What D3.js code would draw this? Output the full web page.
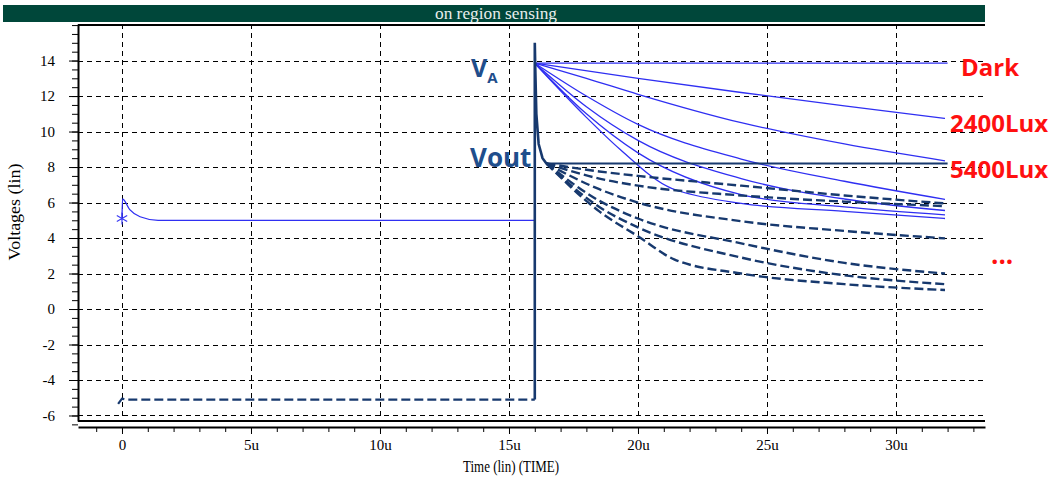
<!DOCTYPE html>
<html>
<head>
<meta charset="utf-8">
<title>on region sensing</title>
<script src="https://d3js.org/d3.v7.min.js"></script>
<style>
  body { margin: 0; background: #fff; }
  .axis text { font-family: "Liberation Serif", "DejaVu Serif", serif; font-size: 15px; fill: #000; }
  .axis path, .axis line { stroke: #000; }
</style>
</head>
<body>
<script>
// ---- data (time in us, volts) ----
var xTicks = [0, 5, 10, 15, 20, 25, 30];
var xTickLabels = ["0", "5u", "10u", "15u", "20u", "25u", "30u"];
var yTicks = [-6, -4, -2, 0, 2, 4, 6, 8, 10, 12, 14];

// VA node before the light pulse
var vaStart = [[0, 5.05], [0.02, 6.2], [0.3, 5.6], [0.7, 5.2], [1.4, 5.0], [16, 5.0], [16.0, 13.85]];
// VA after reset, one curve per light level
var vaDark = [[16, 13.85], [32, 13.85]];
var va2400 = [[16, 13.85], [20, 13.0], [24, 12.2], [28, 11.45], [31.9, 10.74]];
var va5400 = [[16, 13.85], [18, 13.0], [20, 12.1], [24, 10.5], [28, 9.3], [31.9, 8.35]];
var vaL3 = [[16, 13.85], [18, 12.0], [20, 10.4], [24, 8.45], [28, 7.2], [31.9, 6.18]];
var vaL4 = [[16, 13.85], [18, 11.4], [20, 9.5], [24, 7.35], [28, 6.2], [31.9, 5.55]];
var vaL5 = [[16, 13.85], [18, 11.0], [20, 8.8], [24, 6.45], [28, 5.75], [31.9, 5.3]];
var vaL6 = [[16, 13.85], [18, 10.8], [19.3, 9.0], [21.3, 6.8], [21.6, 6.65], [24, 5.95], [28, 5.5], [31.9, 5.1]];

// Vout node
var voutStart = [[-0.15, -5.35], [0, -5.05], [0.15, -5.1], [16, -5.1]];
var voutJump = [[16, -5.1], [16.0, 15.0], [16.02, 13.5], [16.06, 11.0], [16.15, 9.3], [16.3, 8.5], [16.45, 8.2]];
var voutDark = [[16.45, 8.2], [32, 8.2]];
var voutL1 = [[16.45, 8.2], [18.5, 7.75], [20, 7.5], [24, 6.95], [28, 6.4], [31.9, 5.95]];
var voutL2 = [[16.45, 8.2], [18.5, 7.35], [20, 6.95], [24, 6.4], [28, 6.05], [31.9, 5.8]];
var voutL3 = [[16.45, 8.2], [18.5, 6.75], [20, 6.0], [24, 4.95], [28, 4.4], [31.9, 3.98]];
var voutL4 = [[16.45, 8.2], [18.5, 6.1], [20, 5.1], [24, 3.7], [28, 2.6], [31.9, 2.0]];
var voutL5 = [[16.45, 8.2], [18.5, 5.75], [20, 4.6], [24, 2.9], [28, 1.9], [31.9, 1.4]];
var voutL6 = [[16.45, 8.2], [18.5, 5.5], [20, 4.1], [21.4, 2.8], [24, 2.0], [28, 1.4], [31.9, 1.07]];

var luxLabels = ["Dark", "2400Lux", "5400Lux"];

// ---- canvas ----
var width = 1058, height = 490;
var svg = d3.select("body").append("svg")
    .attr("width", width)
    .attr("height", height);

var x = d3.scaleLinear().domain([-1.705, 33.45]).range([78, 985]);
var y = d3.scaleLinear().domain([-6.31, 16.06]).range([421, 24]);

// title bar
svg.append("rect")
    .attr("x", 3).attr("y", 5)
    .attr("width", 982).attr("height", 17)
    .attr("fill", "#00473a");
svg.append("text")
    .attr("x", 496).attr("y", 19)
    .attr("text-anchor", "middle")
    .attr("fill", "#e8eeec")
    .attr("textLength", 122).attr("lengthAdjust", "spacingAndGlyphs")
    .style("font-family", "Liberation Serif, serif")
    .style("font-size", "16px")
    .text("on region sensing");

// grid
var grid = svg.append("g")
    .attr("stroke", "#000")
    .attr("stroke-width", 1)
    .attr("stroke-dasharray", "5,4");
grid.selectAll(".hg").data(yTicks).enter().append("line")
    .attr("x1", 78).attr("x2", 985)
    .attr("y1", function(d) { return Math.round(y(d)) + 0.5; })
    .attr("y2", function(d) { return Math.round(y(d)) + 0.5; });
grid.selectAll(".vg").data(xTicks).enter().append("line")
    .attr("y1", 24).attr("y2", 421)
    .attr("x1", function(d) { return Math.round(x(d)) + 0.5; })
    .attr("x2", function(d) { return Math.round(x(d)) + 0.5; });

// frame: top + bottom
svg.append("line").attr("x1", 78).attr("x2", 985).attr("y1", 25).attr("y2", 25)
    .attr("stroke", "#000").attr("stroke-width", 2);
svg.append("line").attr("x1", 78).attr("x2", 985).attr("y1", 421).attr("y2", 421)
    .attr("stroke", "#000").attr("stroke-width", 2);

// y axis
svg.append("g").attr("class", "axis")
    .attr("transform", "translate(78,0)")
    .call(d3.axisLeft(y).tickValues(d3.range(-6.5, 16.01, 0.5)).tickSize(6).tickFormat(""))
    .call(function(g) { g.select(".domain").remove(); });
svg.append("g").attr("class", "axis")
    .attr("transform", "translate(78,0)")
    .call(d3.axisLeft(y).tickValues(yTicks).tickSize(9).tickPadding(14).tickSizeOuter(0)
        .tickFormat(function(d) { return String(d); }))
    .call(function(g) { g.select(".domain").attr("stroke-width", 2); });

// x axis (separate line below the frame)
svg.append("g").attr("class", "axis")
    .attr("transform", "translate(0,427)")
    .call(d3.axisBottom(x).tickValues(d3.range(-1, 33.5, 1)).tickSize(5).tickFormat(""))
    .call(function(g) { g.select(".domain").remove(); });
svg.append("g").attr("class", "axis")
    .attr("transform", "translate(0,427)")
    .call(d3.axisBottom(x).tickValues(xTicks).tickSize(7).tickPadding(5).tickSizeOuter(0)
        .tickFormat(function(d, i) { return xTickLabels[i]; }))
    .call(function(g) { g.select(".domain").attr("stroke-width", 2); });

// axis titles
svg.append("text")
    .attr("x", 511).attr("y", 472)
    .attr("text-anchor", "middle")
    .attr("textLength", 96).attr("lengthAdjust", "spacingAndGlyphs")
    .style("font-family", "Liberation Serif, serif")
    .style("font-size", "16px")
    .text("Time (lin) (TIME)");
svg.append("text")
    .attr("transform", "translate(20,212) rotate(-90)")
    .attr("text-anchor", "middle")
    .attr("textLength", 97).attr("lengthAdjust", "spacingAndGlyphs")
    .style("font-family", "Liberation Serif, serif")
    .style("font-size", "16px")
    .text("Voltages (lin)");

// curves
var line = d3.line()
    .x(function(d) { return x(d[0]); })
    .y(function(d) { return y(d[1]); });
var smooth = d3.line()
    .curve(d3.curveMonotoneX)
    .x(function(d) { return x(d[0]); })
    .y(function(d) { return y(d[1]); });

var vaColor = "#2f2ff2", voutColor = "#17396e";

// VA (thin solid blue)
svg.append("path").datum(vaStart)
    .attr("d", smooth).attr("fill", "none")
    .attr("stroke", vaColor).attr("stroke-width", 1.3);
svg.selectAll(".va").data([vaDark, va2400, va5400, vaL3, vaL4, vaL5, vaL6]).enter().append("path")
    .attr("class", "va")
    .attr("d", smooth).attr("fill", "none")
    .attr("stroke", vaColor).attr("stroke-width", 1.3);

// Vout (thick dashed navy)
svg.append("path").datum(voutStart)
    .attr("d", line).attr("fill", "none")
    .attr("stroke", voutColor).attr("stroke-width", 2.2)
    .attr("stroke-dasharray", "9,4");
svg.append("path").datum(voutJump)
    .attr("d", line).attr("fill", "none")
    .attr("stroke", voutColor).attr("stroke-width", 2.6);
svg.append("path").datum(voutDark)
    .attr("d", line).attr("fill", "none")
    .attr("stroke", voutColor).attr("stroke-width", 2.2);
svg.selectAll(".vout").data([voutL1, voutL2, voutL3, voutL4, voutL5, voutL6]).enter().append("path")
    .attr("class", "vout")
    .attr("d", smooth).attr("fill", "none")
    .attr("stroke", voutColor).attr("stroke-width", 2.4)
    .attr("stroke-dasharray", "9,4");

// asterisk marker at VA start
var mx = x(0), my = y(5.1), r = 6;
svg.selectAll(".star").data([90, 30, 150]).enter().append("line")
    .attr("x1", function(a) { return mx + r * Math.cos(a * Math.PI / 180); })
    .attr("y1", function(a) { return my - r * Math.sin(a * Math.PI / 180); })
    .attr("x2", function(a) { return mx - r * Math.cos(a * Math.PI / 180); })
    .attr("y2", function(a) { return my + r * Math.sin(a * Math.PI / 180); })
    .attr("stroke", "#3a3af5").attr("stroke-width", 1.2);

// node labels
var nodeLbl = svg.append("g")
    .attr("fill", "#1f4e8c")
    .style("font-family", "Open Sans, sans-serif")
    .style("font-weight", "700");
var va = nodeLbl.append("text").attr("x", 471).attr("y", 77).style("font-size", "25px");
va.append("tspan").text("V");
va.append("tspan").attr("dy", 6).style("font-size", "15px").text("A");
nodeLbl.append("text").attr("x", 470).attr("y", 167)
    .style("font-size", "26px").text("Vout");

// lux labels (red)
svg.selectAll(".lux").data(luxLabels).enter().append("text")
    .attr("class", "lux")
    .attr("x", function(d, i) { return i === 0 ? 961 : 950; })
    .attr("y", function(d, i) { return [76, 132, 178][i]; })
    .attr("fill", "#ff1010")
    .style("font-family", "Open Sans, sans-serif")
    .style("font-weight", "700")
    .style("font-size", "24px")
    .text(function(d) { return d; });
svg.append("text")
    .attr("x", 991).attr("y", 264)
    .attr("fill", "#ff1010")
    .style("font-family", "Open Sans, sans-serif")
    .style("font-weight", "700")
    .style("font-size", "26px")
    .text("...");
</script>
</body>
</html>
